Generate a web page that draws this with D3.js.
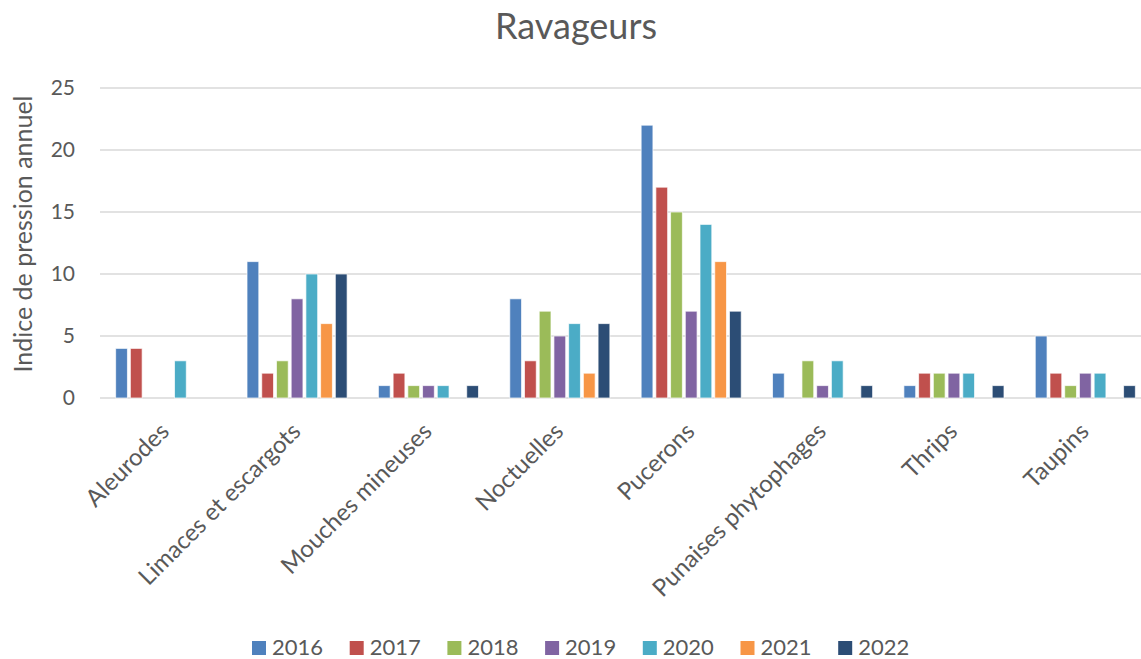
<!DOCTYPE html>
<html><head><meta charset="utf-8">
<script src="https://cdn.jsdelivr.net/npm/d3@7"></script>
<style>body{margin:0;background:#fff;} text{font-family:Lato,"Open Sans",sans-serif;}</style>
</head><body>
<svg id="c" width="1141" height="659"></svg>
<script>
const categories = ["Aleurodes","Limaces et escargots","Mouches mineuses","Noctuelles","Pucerons","Punaises phytophages","Thrips","Taupins"];
const years = ["2016","2017","2018","2019","2020","2021","2022"];
const colors = ["#4f81bd","#c0504d","#9bbb59","#8064a2","#4bacc6","#f79646","#2c4d75"];
const s2016 = [4,11,1,8,22,2,1,5];
const s2017 = [4,2,2,3,17,null,2,2];
const s2018 = [null,3,1,7,15,3,2,1];
const s2019 = [null,8,1,5,7,1,2,2];
const s2020 = [3,10,1,6,14,3,2,2];
const s2021 = [null,6,null,2,11,null,null,null];
const s2022 = [null,10,1,6,7,1,1,1];
const series = [s2016,s2017,s2018,s2019,s2020,s2021,s2022];
const yTicks = [0,5,10,15,20,25];

const svg = d3.select("#c");
const x0 = d3.scaleBand().domain(categories).range([100,1151]).paddingInner(0).paddingOuter(0);
const x1 = d3.scaleBand().domain(years).range([12.7, x0.bandwidth()-12.7]).padding(0.2);
const y = d3.scaleLinear().domain([0,25]).range([398,88]);

// gridlines
svg.append("g").selectAll("line").data(yTicks).join("line")
  .attr("x1",100).attr("x2",1141).attr("y1",d=>y(d)).attr("y2",d=>y(d))
  .attr("stroke","#d9d9d9").attr("stroke-width",1.5);

// y tick labels
svg.append("g").selectAll("text").data(yTicks).join("text")
  .attr("x",75).attr("y",d=>y(d)).attr("dy","0.35em").attr("text-anchor","end")
  .attr("font-size",21).attr("fill","#595959").text(d=>d);

// bars
const gBars = svg.append("g");
years.forEach((yr,i)=>{
  const data = categories.map((c,j)=>({c, v: series[i][j]})).filter(d=>d.v!==null);
  gBars.append("g").selectAll("rect").data(data).join("rect")
    .attr("x",d=>x0(d.c)+x1(yr)).attr("width",x1.bandwidth())
    .attr("y",d=>y(d.v)).attr("height",d=>y(0)-y(d.v))
    .attr("fill",colors[i]).attr("stroke","#ffffff").attr("stroke-opacity",0.7).attr("stroke-width",1);
});

// category labels
svg.append("g").selectAll("text").data(categories).join("text")
  .attr("transform",d=>`translate(${x0(d)+x0.bandwidth()/2+5},${433}) rotate(-45)`)
  .attr("text-anchor","end").attr("font-size",24).attr("fill","#595959").text(d=>d);

// title
svg.append("text").attr("x",576).attr("y",39).attr("text-anchor","middle")
  .attr("font-size",36).attr("fill","#595959").text("Ravageurs");

// y axis title
svg.append("text").attr("transform","translate(32,234) rotate(-90)").attr("text-anchor","middle")
  .attr("font-size",25).attr("fill","#595959").text("Indice de pression annuel");

// legend
const leg = svg.append("g").selectAll("g").data(years).join("g")
  .attr("transform",(d,i)=>`translate(${252+i*97.7},641)`);
leg.append("rect").attr("width",14).attr("height",14).attr("fill",(d,i)=>colors[i]);
leg.append("text").attr("x",20).attr("y",13.5).attr("font-size",22).attr("fill","#595959").text(d=>d);
</script>
</body></html>
